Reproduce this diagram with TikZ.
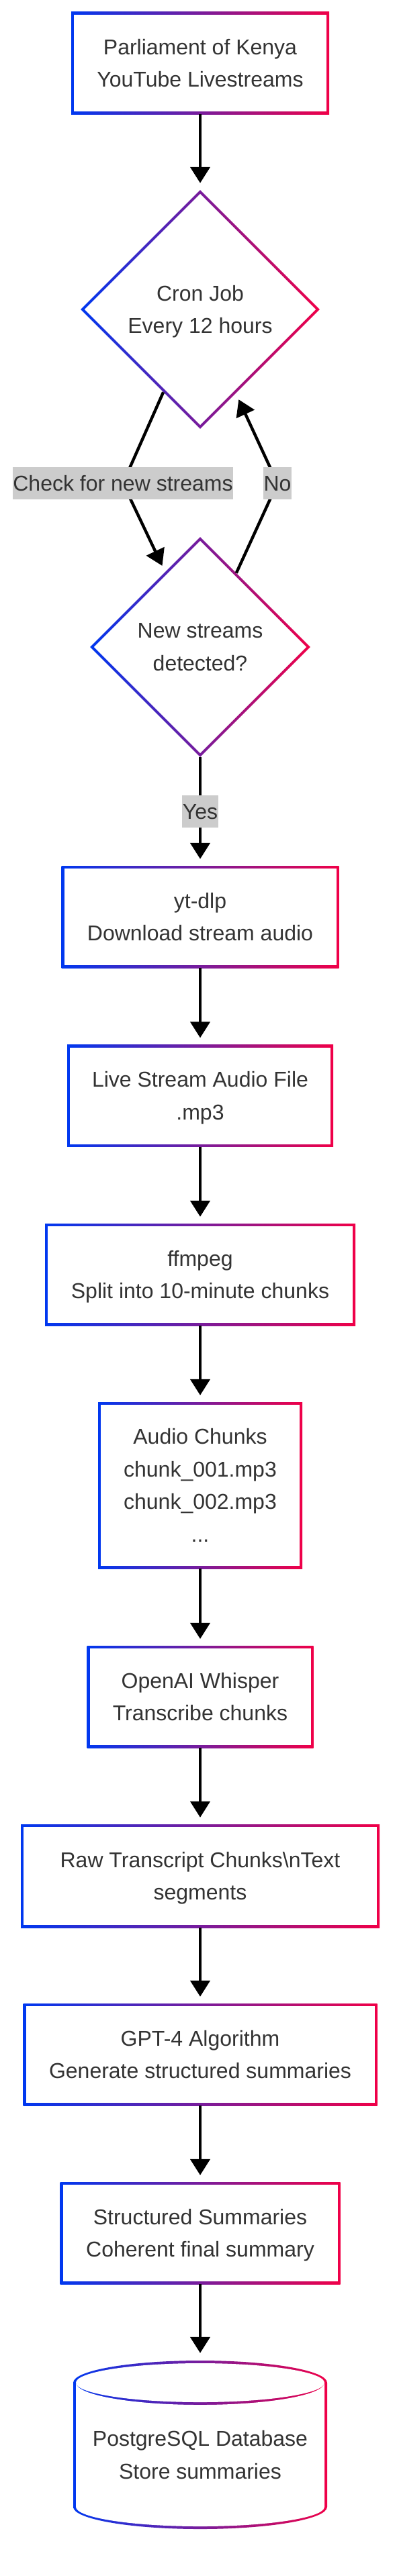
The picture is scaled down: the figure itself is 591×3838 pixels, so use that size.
\documentclass[tikz,border=0pt]{standalone}
\usepackage{fontspec}
\setmainfont{Liberation Sans}
\usetikzlibrary{shapes.geometric,arrows.meta}
\definecolor{mblue}{RGB}{0,56,240}
\definecolor{mred}{RGB}{240,0,72}
\definecolor{txtgray}{RGB}{51,51,51}
\definecolor{lblgray}{RGB}{204,204,204}
\newcommand\nodefont{\fontsize{32pt}{48.5pt}\selectfont}
\tikzset{
	flowbox/.style={rectangle, fill=white, minimum width=#1, minimum height=152pt, inner sep=0pt,
		align=center, text=txtgray, font=\nodefont, text depth=0pt,
		path picture={
			\shade[left color=mblue, right color=mred] (path picture bounding box.south west) rectangle (path picture bounding box.north east);
			\fill[white] ([shift={(4pt,4pt)}]path picture bounding box.south west) rectangle ([shift={(-4pt,-4pt)}]path picture bounding box.north east);
		}},
	decision/.style={diamond, fill=white, minimum width=#1, minimum height=#1, inner sep=0pt,
		align=center, text=txtgray, font=\nodefont, text depth=0pt,
		path picture={
			\shade[left color=mblue, right color=mred] (path picture bounding box.south west) rectangle (path picture bounding box.north east);
			\fill[white] ([yshift=-5.7pt]path picture bounding box.north) -- ([xshift=-5.7pt]path picture bounding box.east)
				-- ([yshift=5.7pt]path picture bounding box.south) -- ([xshift=5.7pt]path picture bounding box.west) -- cycle;
		}},
	store/.style={rectangle, minimum width=378pt, minimum height=252pt, inner sep=0pt,
		align=center, text=txtgray, font=\nodefont, text height=102pt, text depth=0pt},
	edgelabel/.style={fill=lblgray, text=txtgray, font=\nodefont, inner xsep=0.5pt, inner ysep=0pt,
		minimum height=48pt, text height=23pt, text depth=0pt},
	flow/.style={line width=4.4pt, -{Triangle[width=29pt,length=24pt]}, shorten >=10pt},
}
\begin{document}
\begin{tikzpicture}[x=1pt,y=-1pt]
	\fill[white] (0,0) rectangle (591,3838);
	\useasboundingbox (0,0) rectangle (591,3838);
	% nodes
	\node[flowbox=384pt] (src) at (298,94) {Parliament of Kenya\\YouTube Livestreams};
	\node[decision=356pt] (cron) at (298,461) {Cron Job\\Every 12 hours};
	\node[decision=328pt] (check) at (298,964) {New streams\\detected?};
	\node[flowbox=413pt] (dl) at (298,1366) {yt-dlp\\Download stream audio};
	\node[flowbox=396pt] (mp3) at (298,1632.5) {Live Stream Audio File\\.mp3};
	\node[flowbox=462pt] (split) at (298,1899) {ffmpeg\\Split into 10-minute chunks};
	\node[flowbox=304pt, minimum height=248pt] (chunks) at (298,2213) {Audio Chunks\\chunk\_001.mp3\\chunk\_002.mp3\\...};
	\node[flowbox=337pt] (whisper) at (298,2528) {OpenAI Whisper\\Transcribe chunks};
	\node[flowbox=534pt, minimum height=154pt] (raw) at (298,2795) {Raw Transcript Chunks\textbackslash nText\\segments};
	\node[flowbox=527pt] (gpt) at (298,3061) {GPT-4 Algorithm\\Generate structured summaries};
	\node[flowbox=417pt] (summ) at (298,3327) {Structured Summaries\\Coherent final summary};
	% database cylinder
	\coordinate (dbc) at (298,3642);
	\begin{scope}[shift={(dbc)}]
		\shade[left color=mblue, right color=mred] (-189,-92) arc[start angle=180, end angle=0, x radius=189pt, y radius=33pt]
			-- (189,93) arc[start angle=0, end angle=-180, x radius=189pt, y radius=33pt] -- cycle;
		\fill[white] (0,-92) ellipse [x radius=185pt, y radius=29pt];
		\fill[white] (-185,-92) arc[start angle=180, end angle=360, x radius=185pt, y radius=33pt]
			-- (185,93) arc[start angle=0, end angle=-180, x radius=185pt, y radius=29pt] -- cycle;
	\end{scope}
	\node[store] (db) at (dbc) {PostgreSQL Database\\Store summaries};
	% loop between cron job and check
	\coordinate (kcheck) at (183,720);
	\coordinate (kno) at (413,720);
	\draw[flow] (src) -- (cron);
	\draw[flow] (cron.246) -- (kcheck) -- (check.115.5);
	\draw[flow] (check.64) -- (kno) -- (cron.293);
	\node[edgelabel] (lcheck) at (kcheck) {Check for new streams};
	\node[edgelabel] (lno) at (kno) {No};
	\draw[flow] (check) -- node[edgelabel] (lyes) {Yes} (dl);
	% pipeline
	\draw[flow] (dl) -- (mp3);
	\draw[flow] (mp3) -- (split);
	\draw[flow] (split) -- (chunks);
	\draw[flow] (chunks) -- (whisper);
	\draw[flow] (whisper) -- (raw);
	\draw[flow] (raw) -- (gpt);
	\draw[flow] (gpt) -- (summ);
	\draw[flow] (summ) -- (db);
\end{tikzpicture}
\end{document}
